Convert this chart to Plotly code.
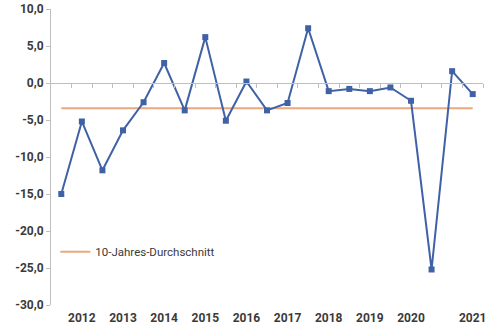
import plotly.graph_objects as go

# Data (half-yearly periods, 21 points)
periods = list(range(21))
tick_labels = ["", "2012", "", "2013", "", "2014", "", "2015", "", "2016", "",
               "2017", "", "2018", "", "2019", "", "2020", "", "", "2021"]
values = [-15.0, -5.2, -11.8, -6.4, -2.6, 2.7, -3.7, 6.2, -5.1, 0.2, -3.7,
          -2.7, 7.4, -1.1, -0.8, -1.1, -0.6, -2.4, -25.2, 1.6, -1.5]
avg_value = -3.4
avg_series = [avg_value] * len(periods)
avg_name = "10-Jahres-Durchschnitt"

y_ticks = [10, 5, 0, -5, -10, -15, -20, -25, -30]
y_ticktext = ["10,0", "5,0", "0,0", "-5,0", "-10,0", "-15,0", "-20,0", "-25,0", "-30,0"]

blue = "#3F62A6"
orange = "#EBA77D"
grid = "#BFBFBF"
txt = "#3A3A3A"

fig = go.Figure()
fig.add_trace(go.Scatter(
    x=periods, y=avg_series, mode="lines", name=avg_name,
    line=dict(color=orange, width=2), showlegend=True))
fig.add_trace(go.Scatter(
    x=periods, y=values, mode="lines+markers", name="Wert",
    line=dict(color=blue, width=2),
    marker=dict(symbol="square", size=6, color=blue),
    showlegend=False))
# invisible trace on the zero-line category axis
fig.add_trace(go.Scatter(x=periods, y=[0]*len(periods), xaxis="x2", yaxis="y",
                         mode="lines", line=dict(width=0), hoverinfo="skip",
                         showlegend=False, opacity=0))

xr = [-0.5, len(periods) - 0.5]
fig.update_layout(
    width=500, height=330,
    margin=dict(l=51, r=17, t=9, b=25),
    paper_bgcolor="white", plot_bgcolor="white",
    font=dict(family="Roboto, Liberation Sans, sans-serif", color=txt),
    xaxis=dict(range=xr, tickmode="array", tickvals=periods, ticktext=tick_labels,
               showgrid=False, zeroline=False, showline=False, ticks="",
               automargin=False,
               tickfont=dict(size=12, color=txt, weight="bold"), ticklabelstandoff=4),
    xaxis2=dict(range=xr, overlaying="x", anchor="free", position=0.75,
                tickmode="array", tickvals=[p + 0.5 for p in periods],
                showticklabels=False, ticks="outside", ticklen=4, tickcolor=grid,
                showline=True, linecolor=grid, linewidth=1, automargin=False,
                showgrid=False, zeroline=False),
    yaxis=dict(range=[-30, 10], tickmode="array", tickvals=y_ticks, ticktext=y_ticktext,
               showgrid=False, zeroline=False, showline=True, linecolor=grid,
               ticks="outside", ticklen=4, tickcolor=grid, automargin=False,
               tickfont=dict(size=12, color=txt, weight="bold")),
    legend=dict(x=0.01, y=0.18, xanchor="left", yanchor="middle",
                bgcolor="rgba(0,0,0,0)", font=dict(size=11.5, color=txt),
                itemwidth=30),
)

fig.write_html("out.html")
